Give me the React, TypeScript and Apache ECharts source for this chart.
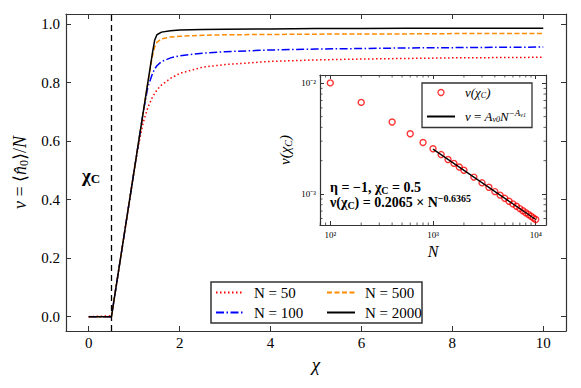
import React, { useEffect, useRef } from 'react';
import * as echarts from 'echarts';

// ---- main panel data ----
const chi = [0, 0.5, 0.6, 0.7, 0.8, 0.9, 1.0, 1.1, 1.2, 1.3, 1.4, 1.45, 1.5, 1.6, 1.8, 2.0, 2.5, 3, 4, 5, 6, 7, 8, 9, 10];
const nu50 = [0, 0.003, 0.1, 0.2, 0.3, 0.4, 0.5, 0.59, 0.665, 0.715, 0.75, 0.763, 0.775, 0.792, 0.815, 0.832, 0.853, 0.862, 0.873, 0.878, 0.881, 0.883, 0.885, 0.886, 0.887];
const nu100 = [0, 0, 0.1, 0.2, 0.3, 0.4, 0.5, 0.6, 0.7, 0.785, 0.83, 0.847, 0.858, 0.872, 0.885, 0.892, 0.901, 0.906, 0.912, 0.915, 0.917, 0.919, 0.92, 0.921, 0.922];
const nu500 = [0, 0, 0.1, 0.2, 0.3, 0.4, 0.5, 0.6, 0.7, 0.8, 0.89, 0.922, 0.938, 0.95, 0.956, 0.959, 0.962, 0.964, 0.965, 0.966, 0.967, 0.967, 0.968, 0.968, 0.968];
const nu2000 = [0, 0, 0.1, 0.2, 0.3, 0.4, 0.5, 0.6, 0.7, 0.8, 0.9, 0.945, 0.964, 0.973, 0.978, 0.98, 0.982, 0.983, 0.984, 0.985, 0.985, 0.986, 0.986, 0.986, 0.986];
const chiC = 0.5;

// ---- inset data ----
const Nvals = [100, 200, 400, 600, 800, 1000, 1200, 1400, 1600, 1800, 2000, 2500, 3000, 3500, 4000, 4500, 5000, 5500, 6000, 6500, 7000, 7500, 8000, 8500, 9000, 9500, 10000];
const nuC = [0.0101, 0.00673, 0.00447, 0.0035, 0.00292, 0.00256, 0.00227, 0.00205, 0.00189, 0.00175, 0.00164, 0.00142, 0.00126, 0.00115, 0.00105, 0.000976, 0.000913, 0.000859, 0.000813, 0.000773, 0.000737, 0.000706, 0.000677, 0.000651, 0.000628, 0.000607, 0.000587];
const fitN = [1000, 10000];
const fitNu = [0.002543, 0.000587];
const minorN = [80, 90, 200, 300, 400, 500, 600, 700, 800, 900, 2000, 3000, 4000, 5000, 6000, 7000, 8000, 9000];
const minorNu = [0.0006, 0.0007, 0.0008, 0.0009, 0.002, 0.003, 0.004, 0.005, 0.006, 0.007, 0.008, 0.009];

const FONT = "'Liberation Serif', serif";
const AX = '#333';

const zip = (xs: number[], ys: number[]) => xs.map((x, i) => [x, ys[i]]);

const supMap: Record<string, string> = { '2': '²', '3': '³', '4': '⁴', '-2': '⁻²', '-3': '⁻³' };
const logLabel = (v: number) => {
  const e = Math.round(Math.log10(v));
  if (Math.abs(Math.log10(v) - e) > 1e-6) return '';
  return '10' + (supMap[String(e)] || '');
};

export default function App() {
  const ref = useRef<HTMLDivElement>(null);
  useEffect(() => {
    const chart = echarts.init(ref.current!, null, { renderer: 'svg' });

    const frame = { show: true, onZero: false, lineStyle: { color: AX, width: 1.2 } };
    const mainXBase = {
      type: 'value', gridIndex: 0, min: -0.5, max: 10.5,
      axisLine: frame,
      axisTick: { show: true, inside: true, length: 5, lineStyle: { color: AX, width: 1 } },
      splitLine: { show: false },
    };
    const mainYBase = {
      type: 'value', gridIndex: 0, min: -0.049, max: 1.035,
      axisLine: frame,
      axisTick: { show: true, inside: true, length: 5, lineStyle: { color: AX, width: 1 } },
      splitLine: { show: false },
    };
    const insXBase = {
      type: 'log', logBase: 10, gridIndex: 1, min: 79.43, max: 12590,
      axisLine: frame,
      axisTick: { show: true, inside: true, length: 4, lineStyle: { color: AX, width: 1 } },
      splitLine: { show: false },
    };
    const insYBase = {
      type: 'log', logBase: 10, gridIndex: 1, min: 0.000524, max: 0.0119,
      axisLine: frame,
      axisTick: { show: true, inside: true, length: 4, lineStyle: { color: AX, width: 1 } },
      splitLine: { show: false },
    };
    const tickLabel = { fontFamily: FONT, fontSize: 15, color: '#000' };
    const smallLabel = { fontFamily: FONT, fontSize: 9, color: '#000' };

    const lineSeries = (name: string, ys: number[], color: string, type: any) => ({
      name, type: 'line', xAxisIndex: 0, yAxisIndex: 0, data: zip(chi, ys),
      symbol: 'none', lineStyle: { color, width: 1.5, type }, itemStyle: { color },
      z: 3,
    });

    const richMath = {
      i: { fontFamily: FONT, fontStyle: 'italic', fontSize: 13, color: '#000' },
      r: { fontFamily: FONT, fontSize: 13, color: '#000' },
      s: { fontFamily: FONT, fontStyle: 'italic', fontSize: 8, color: '#000', padding: [6, 0, 0, 0] },
      p: { fontFamily: FONT, fontStyle: 'italic', fontSize: 9, color: '#000', padding: [0, 0, 7, 0] },
      ps: { fontFamily: FONT, fontStyle: 'italic', fontSize: 6, color: '#000', padding: [0, 0, 3, 0] },
    };

    const mainLegend = {
      orient: 'vertical', top: 285, padding: 0,
      itemWidth: 28, itemHeight: 10, itemGap: 5,
      itemStyle: { opacity: 0 },
      textStyle: { fontFamily: FONT, fontSize: 15, color: '#000', padding: [0, 0, 0, 5] },
    };

    const option: any = {
      animation: false,
      backgroundColor: '#fff',
      textStyle: { fontFamily: FONT },
      grid: [
        { left: 66, top: 14, right: 15, bottom: 57, containLabel: false, outerBoundsMode: 'none' },
        { left: 320, top: 75, width: 226, height: 150, containLabel: false, outerBoundsMode: 'none', show: true, backgroundColor: '#fff', borderWidth: 0, z: 5 },
      ],
      xAxis: [
        {
          ...mainXBase, position: 'bottom',
          axisLabel: { ...tickLabel, margin: 4, showMinLabel: false, showMaxLabel: false, formatter: (v: number) => String(v) },
          name: 'χ', nameLocation: 'middle', nameGap: 21,
          nameTextStyle: { fontFamily: FONT, fontStyle: 'italic', fontSize: 19, color: '#000' },
        },
        { ...mainXBase, position: 'top', axisLabel: { show: false } },
        {
          ...insXBase, position: 'bottom',
          axisLabel: { ...smallLabel, margin: 5, showMinLabel: false, showMaxLabel: false, formatter: logLabel },
          name: 'N', nameLocation: 'middle', nameGap: 18,
          nameTextStyle: { fontFamily: FONT, fontStyle: 'italic', fontSize: 16, color: '#000' },
          z: 6,
        },
        { ...insXBase, position: 'top', axisLabel: { show: false }, z: 6 },
      ],
      yAxis: [
        {
          ...mainYBase, position: 'left',
          axisLabel: { ...tickLabel, margin: 6, showMinLabel: false, showMaxLabel: false, formatter: (v: number) => v.toFixed(1) },
          name: '{i|ν} = ⟨{i|n̂}{s|0}⟩/{i|N}', nameLocation: 'middle', nameGap: 26,
          nameTextStyle: {
            fontFamily: FONT, fontSize: 18, color: '#000',
            rich: {
              i: { fontFamily: FONT, fontStyle: 'italic', fontSize: 18, color: '#000' },
              s: { fontFamily: FONT, fontSize: 12, color: '#000', padding: [8, 0, 0, 0] },
            },
          },
        },
        { ...mainYBase, position: 'right', axisLabel: { show: false } },
        {
          ...insYBase, position: 'left',
          axisLabel: { ...smallLabel, margin: 4, showMinLabel: false, showMaxLabel: false, formatter: logLabel },
          name: '{i|ν(χ}{s|C}{i|)}', nameLocation: 'middle', nameGap: 27,
          nameTextStyle: {
            fontFamily: FONT, fontSize: 15, color: '#000',
            rich: {
              i: { fontFamily: FONT, fontStyle: 'italic', fontSize: 15, color: '#000' },
              s: { fontFamily: FONT, fontStyle: 'italic', fontSize: 10, color: '#000', padding: [7, 0, 0, 0] },
            },
          },
          z: 6,
        },
        { ...insYBase, position: 'right', axisLabel: { show: false }, z: 6 },
      ],
      legend: [
        { ...mainLegend, data: ['N = 50', 'N = 100'], left: 215 },
        { ...mainLegend, data: ['N = 500', 'N = 2000'], left: 326 },
        {
          data: [
            { name: 'nuC', itemStyle: { borderWidth: 1.3 } },
            { name: 'fit', itemStyle: { opacity: 0 } },
          ],
          orient: 'vertical', left: 422, top: 83, z: 8,
          padding: [3, 6, 4, 4], itemWidth: 28, itemHeight: 6, itemGap: 9,
          borderColor: AX, borderWidth: 1.3, backgroundColor: '#fff',
          formatter: (name: string) => name === 'nuC' ? '{i|ν(χ}{s|C}{i|)}' : '{i|ν} {r|=} {i|A}{s|ν0}{i|N}{p|−A}{ps|ν1}',
          textStyle: { fontFamily: FONT, fontSize: 13, color: '#000', padding: [0, 0, 0, 5], rich: richMath },
        },
      ],
      graphic: [
        {
          type: 'rect', shape: { x: 211, y: 282, width: 211, height: 41 }, z: 1,
          style: { fill: 'rgba(255,255,255,0)', stroke: AX, lineWidth: 1.5 },
        },
        {
          type: 'text', x: 82, y: 175, z: 10,
          style: {
            text: '{b|χ}{c|C}', verticalAlign: 'middle',
            rich: {
              b: { fontFamily: FONT, fontWeight: 'bold', fontSize: 19, fill: '#000' },
              c: { fontFamily: FONT, fontWeight: 'bold', fontSize: 13, fill: '#000', padding: [6, 0, 0, 0] },
            },
          },
        },
        {
          type: 'text', x: 330, y: 195, z: 10,
          style: {
            text: '{b|η = −1, χ}{c|C}{b| = 0.5}\n{b|ν(χ}{c|C}{b|) = 0.2065 × N}{p|−0.6365}',
            verticalAlign: 'middle',
            rich: {
              b: { fontFamily: FONT, fontWeight: 'bold', fontSize: 14, lineHeight: 15, fill: '#000' },
              c: { fontFamily: FONT, fontWeight: 'bold', fontSize: 10, lineHeight: 9, fill: '#000', padding: [6, 0, 0, 0] },
              p: { fontFamily: FONT, fontWeight: 'bold', fontSize: 10, lineHeight: 6, fill: '#000', padding: [0, 0, 9, 0] },
            },
          },
        },
      ],
      series: [
        {
          ...lineSeries('N = 50', nu50, '#ff0000', [1.5, 2.5]),
          markLine: {
            silent: true, symbol: 'none', label: { show: false },
            lineStyle: { color: '#000', width: 1.3, type: [6, 4] },
            data: [{ xAxis: chiC }],
          },
        },
        lineSeries('N = 100', nu100, '#0000ff', [8, 2.5, 1.5, 2.5]),
        lineSeries('N = 500', nu500, '#ff8c00', [5, 2.5]),
        lineSeries('N = 2000', nu2000, '#000000', 'solid'),
        {
          name: 'nuC', type: 'scatter', xAxisIndex: 2, yAxisIndex: 2, data: zip(Nvals, nuC),
          symbol: 'circle', symbolSize: 6, z: 7,
          itemStyle: { color: 'rgba(255,255,255,0)', borderColor: '#ff0000', borderWidth: 1.4 },
        },
        {
          name: 'fit', type: 'line', xAxisIndex: 2, yAxisIndex: 2, data: zip(fitN, fitNu),
          symbol: 'none', lineStyle: { color: '#000', width: 1.3 }, itemStyle: { color: '#000' }, z: 8,
        },
        {
          type: 'custom', xAxisIndex: 2, yAxisIndex: 2, z: 8, silent: true,
          data: minorN.map((n) => [n, 0.001]),
          encode: { x: 0, y: 1 },
          renderItem: (params: any, api: any) => {
            const cs = params.coordSys;
            const x = api.coord([api.value(0), 0.001])[0];
            const st = { stroke: AX, lineWidth: 0.8 };
            return {
              type: 'group', children: [
                { type: 'line', shape: { x1: x, y1: cs.y + cs.height, x2: x, y2: cs.y + cs.height - 2.5 }, style: st },
                { type: 'line', shape: { x1: x, y1: cs.y, x2: x, y2: cs.y + 2.5 }, style: st },
              ],
            };
          },
        },
        {
          type: 'custom', xAxisIndex: 2, yAxisIndex: 2, z: 8, silent: true,
          data: minorNu.map((v) => [1000, v]),
          encode: { x: 0, y: 1 },
          renderItem: (params: any, api: any) => {
            const cs = params.coordSys;
            const y = api.coord([1000, api.value(1)])[1];
            const st = { stroke: AX, lineWidth: 0.8 };
            return {
              type: 'group', children: [
                { type: 'line', shape: { x1: cs.x, y1: y, x2: cs.x + 2.5, y2: y }, style: st },
                { type: 'line', shape: { x1: cs.x + cs.width, y1: y, x2: cs.x + cs.width - 2.5, y2: y }, style: st },
              ],
            };
          },
        },
      ],
    };
    chart.setOption(option);
    return () => chart.dispose();
  }, []);
  return <div ref={ref} style={{ position: 'fixed', left: 0, top: 0, width: 581, height: 388 }} />;
}
